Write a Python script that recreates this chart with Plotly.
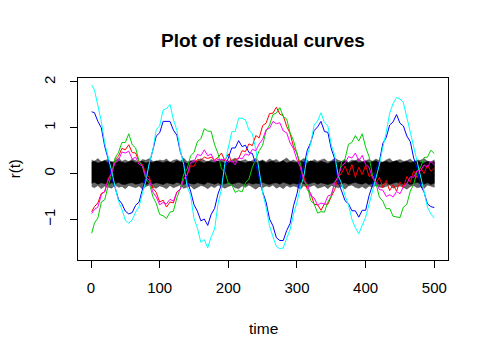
import plotly.graph_objects as go

# time grid (t = 1, 5, 10, ..., 500)
time = [1] + list(range(5, 501, 5))

red = [-0.83, -0.72, -0.64, -0.43, -0.40, -0.11, 0.02, 0.31, 0.38, 0.55,
       0.52, 0.63, 0.46, 0.45, 0.26, 0.20, -0.02, -0.08, -0.32, -0.41,
       -0.62, -0.58, -0.73, -0.62, -0.64, -0.40, -0.34, -0.11, -0.04, 0.17,
       0.16, 0.31, 0.29, 0.36, 0.33, 0.36, 0.30, 0.35, 0.45, 0.28,
       0.43, 0.25, 0.31, 0.33, 0.50, 0.48, 0.65, 0.61, 0.83, 0.78,
       1.05, 1.10, 1.31, 1.32, 1.45, 1.30, 1.26, 1.03, 0.88, 0.58,
       0.45, 0.13, -0.07, -0.35, -0.43, -0.67, -0.68, -0.80, -0.66, -0.67,
       -0.50, -0.35, -0.08, 0.01, 0.16, -0.03, 0.20, -0.08, 0.14, -0.02,
       0.18, -0.06, -0.03, -0.22, -0.08, -0.30, -0.15, -0.37, -0.24, -0.38,
       -0.18, -0.31, -0.06, -0.19, 0.06, -0.09, 0.14, 0.00, 0.19, 0.05,
       0.12]

green = [-1.30, -1.08, -0.97, -0.62, -0.57, -0.26, -0.02, 0.34, 0.46, 0.68,
         0.68, 0.87, 0.63, 0.56, 0.27, 0.16, -0.12, -0.21, -0.50, -0.65,
         -0.89, -0.92, -0.98, -0.84, -0.82, -0.53, -0.33, -0.01, 0.10, 0.39,
         0.46, 0.70, 0.76, 0.98, 0.93, 0.92, 0.63, 0.44, 0.10, 0.04,
         -0.21, -0.24, -0.41, -0.37, -0.40, -0.20, -0.12, 0.14, 0.32, 0.50,
         0.62, 0.93, 1.06, 1.29, 1.32, 1.44, 1.25, 1.19, 0.89, 0.72,
         0.43, 0.23, -0.16, -0.26, -0.59, -0.66, -0.86, -0.83, -0.84, -0.62,
         -0.48, -0.18, -0.09, 0.25, 0.32, 0.64, 0.68, 0.83, 0.71, 0.87,
         0.58, 0.37, -0.04, -0.21, -0.51, -0.60, -0.77, -0.76, -0.93, -0.94,
         -0.96, -0.73, -0.67, -0.38, -0.24, 0.06, 0.13, 0.35, 0.36, 0.51,
         0.44]

blue = [1.35, 1.33, 1.14, 1.00, 0.59, 0.32, -0.09, -0.30, -0.56, -0.66,
        -0.82, -0.88, -0.85, -0.69, -0.62, -0.34, -0.10, 0.24, 0.51, 0.82,
        0.89, 1.14, 1.14, 1.14, 0.95, 0.84, 0.48, 0.26, -0.16, -0.38,
        -0.68, -0.82, -1.03, -0.99, -1.13, -0.89, -0.76, -0.44, -0.24, 0.13,
        0.34, 0.56, 0.56, 0.72, 0.59, 0.62, 0.46, 0.44, 0.20, -0.09,
        -0.40, -0.62, -0.99, -1.14, -1.40, -1.46, -1.46, -1.24, -1.09, -0.70,
        -0.44, -0.07, 0.16, 0.51, 0.68, 0.94, 1.02, 1.14, 0.92, 0.90,
        0.54, 0.32, -0.18, -0.38, -0.59, -0.66, -0.81, -0.81, -0.95, -0.80,
        -0.80, -0.48, -0.25, 0.09, 0.26, 0.66, 0.79, 1.06, 1.13, 1.29,
        1.10, 1.04, 0.82, 0.70, 0.34, 0.12, -0.26, -0.40, -0.66, -0.72,
        -0.74]

cyan = [1.93, 1.83, 1.48, 1.14, 0.66, 0.39, 0.06, -0.28, -0.60, -0.78,
        -1.02, -1.08, -1.01, -0.84, -0.72, -0.42, -0.16, 0.24, 0.51, 0.96,
        1.04, 1.39, 1.42, 1.51, 1.18, 0.95, 0.51, 0.20, -0.28, -0.47,
        -0.98, -1.19, -1.50, -1.44, -1.62, -1.38, -1.21, -0.66, -0.34, 0.23,
        0.54, 0.91, 0.92, 1.21, 1.21, 1.17, 0.95, 0.87, 0.53, 0.07,
        -0.42, -0.74, -1.14, -1.38, -1.59, -1.64, -1.62, -1.41, -1.22, -0.88,
        -0.63, -0.30, -0.06, 0.40, 0.66, 1.06, 1.15, 1.33, 1.11, 1.04,
        0.62, 0.40, -0.04, -0.22, -0.48, -0.68, -1.00, -1.18, -1.31, -1.13,
        -0.95, -0.67, -0.40, -0.07, 0.19, 0.57, 0.90, 1.32, 1.53, 1.66,
        1.63, 1.55, 1.23, 0.92, 0.59, 0.32, -0.02, -0.38, -0.73, -0.88,
        -0.97]

magenta = [-0.87, -0.78, -0.73, -0.46, -0.38, -0.14, 0.01, 0.24, 0.29, 0.47,
           0.45, 0.49, 0.32, 0.36, 0.20, 0.17, -0.09, -0.14, -0.40, -0.51,
           -0.68, -0.63, -0.66, -0.56, -0.60, -0.41, -0.34, -0.12, -0.02, 0.24,
           0.26, 0.42, 0.39, 0.52, 0.39, 0.43, 0.27, 0.31, 0.30, 0.31,
           0.25, 0.28, 0.19, 0.35, 0.32, 0.43, 0.40, 0.53, 0.50, 0.65,
           0.75, 0.96, 0.99, 1.14, 1.09, 1.11, 0.93, 0.89, 0.67, 0.54,
           0.30, 0.14, -0.15, -0.22, -0.48, -0.53, -0.69, -0.64, -0.67, -0.49,
           -0.46, -0.20, -0.06, 0.17, 0.23, 0.37, 0.34, 0.45, 0.28, 0.40,
           0.20, 0.14, -0.10, -0.18, -0.35, -0.36, -0.50, -0.46, -0.51, -0.39,
           -0.44, -0.29, -0.22, -0.07, -0.08, 0.07, 0.06, 0.19, 0.14, 0.27,
           0.19]

# black noise band: outer (spiky) and inner (solid) envelopes
band_hi = [0.30, 0.27, 0.33, 0.26, 0.29, 0.31, 0.25, 0.28, 0.34, 0.27,
           0.30, 0.26, 0.32, 0.28, 0.25, 0.31, 0.29, 0.33, 0.27, 0.26,
           0.30, 0.28, 0.32, 0.25, 0.29, 0.31, 0.27, 0.34, 0.26, 0.28,
           0.30, 0.27, 0.33, 0.29, 0.25, 0.31, 0.28, 0.26, 0.32, 0.29,
           0.27, 0.30, 0.34, 0.26, 0.28, 0.31, 0.25, 0.29, 0.33, 0.27,
           0.30, 0.26, 0.32, 0.28, 0.31, 0.25, 0.29, 0.34, 0.27, 0.30,
           0.26, 0.28, 0.33, 0.29, 0.25, 0.31, 0.27, 0.30, 0.32, 0.26,
           0.28, 0.34, 0.29, 0.27, 0.31, 0.25, 0.30, 0.28, 0.33, 0.26,
           0.29, 0.31, 0.27, 0.32, 0.28, 0.25, 0.30, 0.33, 0.26, 0.29,
           0.31, 0.27, 0.28, 0.32, 0.25, 0.30, 0.29, 0.33, 0.27, 0.26,
           0.30]
band_lo = [-0.28, -0.31, -0.26, -0.33, -0.27, -0.29, -0.32, -0.25, -0.30, -0.28,
           -0.33, -0.26, -0.29, -0.31, -0.27, -0.34, -0.28, -0.25, -0.30, -0.32,
           -0.27, -0.29, -0.33, -0.26, -0.31, -0.28, -0.25, -0.32, -0.29, -0.27,
           -0.34, -0.30, -0.26, -0.28, -0.33, -0.27, -0.31, -0.25, -0.29, -0.32,
           -0.28, -0.26, -0.31, -0.33, -0.27, -0.30, -0.25, -0.29, -0.34, -0.28,
           -0.31, -0.27, -0.29, -0.25, -0.32, -0.28, -0.33, -0.26, -0.30, -0.27,
           -0.29, -0.34, -0.26, -0.31, -0.28, -0.25, -0.32, -0.30, -0.27, -0.33,
           -0.26, -0.29, -0.31, -0.28, -0.34, -0.27, -0.25, -0.30, -0.32, -0.28,
           -0.33, -0.27, -0.30, -0.26, -0.29, -0.31, -0.28, -0.25, -0.32, -0.29,
           -0.27, -0.30, -0.34, -0.28, -0.26, -0.31, -0.29, -0.33, -0.25, -0.28,
           -0.30]
core_hi = [0.25, 0.27, 0.23, 0.26, 0.28, 0.24, 0.26, 0.22, 0.27, 0.25,
           0.23, 0.26, 0.28, 0.24, 0.25, 0.27, 0.23, 0.26, 0.24, 0.28,
           0.26, 0.24, 0.27, 0.25, 0.23, 0.28, 0.25, 0.26, 0.22, 0.27,
           0.24, 0.28, 0.25, 0.23, 0.27, 0.26, 0.24, 0.28, 0.25, 0.23,
           0.27, 0.25, 0.24, 0.28, 0.26, 0.23, 0.27, 0.25, 0.24, 0.26,
           0.28, 0.23, 0.26, 0.27, 0.24, 0.25, 0.28, 0.23, 0.26, 0.25,
           0.24, 0.27, 0.25, 0.23, 0.28, 0.26, 0.24, 0.27, 0.25, 0.22,
           0.26, 0.28, 0.24, 0.25, 0.27, 0.23, 0.26, 0.28, 0.24, 0.25,
           0.27, 0.24, 0.26, 0.28, 0.23, 0.25, 0.27, 0.24, 0.26, 0.28,
           0.23, 0.25, 0.27, 0.24, 0.26, 0.28, 0.25, 0.23, 0.27, 0.24,
           0.26]
core_lo = [-0.21, -0.19, -0.23, -0.20, -0.22, -0.24, -0.20, -0.22, -0.19, -0.23,
           -0.24, -0.21, -0.20, -0.23, -0.22, -0.19, -0.24, -0.21, -0.22, -0.20,
           -0.22, -0.24, -0.20, -0.21, -0.23, -0.19, -0.22, -0.24, -0.20, -0.21,
           -0.23, -0.20, -0.22, -0.24, -0.19, -0.21, -0.23, -0.20, -0.24, -0.22,
           -0.20, -0.23, -0.21, -0.19, -0.22, -0.24, -0.20, -0.23, -0.21, -0.22,
           -0.19, -0.22, -0.24, -0.21, -0.20, -0.23, -0.19, -0.22, -0.24, -0.21,
           -0.23, -0.20, -0.22, -0.24, -0.21, -0.19, -0.23, -0.20, -0.22, -0.24,
           -0.21, -0.19, -0.23, -0.22, -0.20, -0.24, -0.21, -0.19, -0.22, -0.23,
           -0.20, -0.24, -0.21, -0.19, -0.23, -0.22, -0.20, -0.24, -0.21, -0.19,
           -0.22, -0.23, -0.20, -0.24, -0.21, -0.19, -0.22, -0.23, -0.20, -0.24,
           -0.21]

x_ticks = [0, 100, 200, 300, 400, 500]
y_ticks = [-1, 0, 1, 2]

FONT = "Liberation Sans, Arial, sans-serif"

fig = go.Figure()


def band(hi, lo, color):
    fig.add_trace(go.Scatter(
        x=time + time[::-1], y=hi + lo[::-1], mode="lines", fill="toself",
        fillcolor=color, line=dict(color=color, width=0.5),
        hoverinfo="skip", showlegend=False))


band(band_hi, band_lo, "rgba(0,0,0,0.6)")
band(core_hi, core_lo, "#000000")

for series, col in [(red, "#FF0000"), (green, "#00CD00"), (blue, "#0000FF"),
                    (cyan, "#00FFFF"), (magenta, "#FF00FF")]:
    fig.add_trace(go.Scatter(x=time, y=series, mode="lines",
                             line=dict(color=col, width=1),
                             hoverinfo="skip", showlegend=False))

axis_common = dict(showline=True, mirror=True, linecolor="black", linewidth=1,
                   ticks="outside", ticklen=7, tickcolor="black", tickwidth=1,
                   showgrid=False, zeroline=False,
                   tickfont=dict(family=FONT, size=15, color="black"))

fig.update_layout(
    width=489, height=358,
    margin=dict(l=78, r=41, t=78, b=98),
    paper_bgcolor="white", plot_bgcolor="white",
    hovermode=False,
    xaxis=dict(range=[-18.96, 519.96], tickvals=x_ticks,
               ticklabelstandoff=7, **axis_common),
    yaxis=dict(range=[-1.885, 2.087], tickvals=y_ticks, tickangle=-90,
               ticklabelstandoff=9, **axis_common),
    annotations=[
        dict(text="<b>Plot of residual curves</b>", xref="paper", yref="paper",
             x=0.5, y=1.205, xanchor="center", yanchor="middle", showarrow=False,
             font=dict(family=FONT, size=19, color="black")),
        dict(text="time", xref="paper", yref="paper", x=0.5, y=-0.374,
             xanchor="center", yanchor="middle", showarrow=False,
             font=dict(family=FONT, size=15.5, color="black")),
        dict(text="r(t)", xref="paper", yref="paper", x=-0.172, y=0.5,
             xanchor="center", yanchor="middle", showarrow=False, textangle=-90,
             font=dict(family=FONT, size=15, color="black")),
    ],
)

fig.write_html("out.html", config={"displayModeBar": False},
               post_script="document.body.style.margin='0';")
